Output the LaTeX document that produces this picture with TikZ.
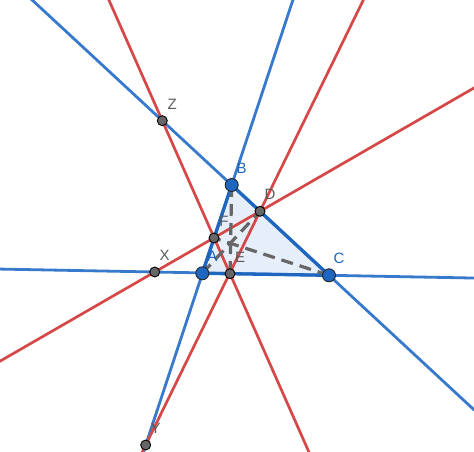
\documentclass[tikz,border=0pt]{standalone}
\usepackage{fontspec}
\setmainfont{Liberation Sans}
\usetikzlibrary{calc}

\definecolor{ggblauw}{RGB}{55,122,204}
\definecolor{ggdonker}{RGB}{30,102,192}
\definecolor{ggrood}{RGB}{214,72,72}
\definecolor{ggvulling}{RGB}{230,238,249}
\definecolor{gggrijs}{RGB}{102,102,102}
\definecolor{lblgrijs}{RGB}{90,90,90}

\tikzset{
  blauwelijn/.style={ggblauw, line width=2.8pt},
  rodelijn/.style={ggrood, line width=2.7pt},
  hulplijn/.style={gggrijs, line width=3.2pt, dash pattern=on 12pt off 7pt},
  punt/.style={circle, draw=black, fill=gggrijs, line width=0.9pt, inner sep=0pt, minimum size=10pt},
  hoekpunt/.style={circle, draw=black!85, fill=ggdonker, line width=0.9pt, inner sep=0pt, minimum size=13pt},
  lbl/.style={xshift=10pt, yshift=16.5pt, inner sep=0pt, font=\fontsize{15}{17}\selectfont, text=lblgrijs},
}

\begin{document}
\begin{tikzpicture}[x=1pt, y=-1pt]
  \useasboundingbox (0,0) rectangle (474,452);
  \clip (0,0) rectangle (474,452);

  % driehoek ABC
  \coordinate (A) at (202.3,273.3);
  \coordinate (B) at (231.7,185);
  \coordinate (C) at (329,275.3);
  % punten op de zijden
  \coordinate (D) at (260,211.3);
  \coordinate (E) at (230,273.7);
  \coordinate (F) at (214,238);
  % snijpunten
  \coordinate (X) at (154.7,272);
  \coordinate (Y) at (145.7,445);
  \coordinate (Z) at (162.3,120.7);

  \fill[ggvulling] (A) -- (B) -- (C) -- cycle;

  % zijden verlengd
  \draw[blauwelijn] ($(Y)!-3!(B)$) -- ($(B)!-3!(Y)$);
  \draw[blauwelijn] ($(Z)!-3!(C)$) -- ($(C)!-3!(Z)$);
  \draw[blauwelijn] ($(X)!-3!(C)$) -- ($(C)!-3!(X)$);

  % rode lijnen
  \draw[rodelijn] ($(Z)!-3!(E)$) -- ($(E)!-3!(Z)$);
  \draw[rodelijn] ($(X)!-3!(D)$) -- ($(D)!-3!(X)$);
  \draw[rodelijn] ($(Y)!-3!(D)$) -- ($(D)!-3!(Y)$);

  \draw[ggdonker, line width=3.3pt, line join=round] (A) -- (B) -- (C) -- cycle;

  % ceva-lijnen
  \draw[hulplijn] (A) -- (D);
  \draw[hulplijn] (B) -- (E);
  \draw[hulplijn] (C) -- (F);

  \foreach \p in {D,E,F,X,Y,Z}
    \node[punt] (p\p) at (\p) {};
  \foreach \p in {A,B,C}
    \node[hoekpunt] (p\p) at (\p) {};

  \foreach \p in {D,E,F,X,Y,Z}
    \node[lbl] (l\p) at (\p) {\p};
  \foreach \p in {A,B,C}
    \node[lbl, text=ggdonker] (l\p) at (\p) {\p};
\end{tikzpicture}
\end{document}
